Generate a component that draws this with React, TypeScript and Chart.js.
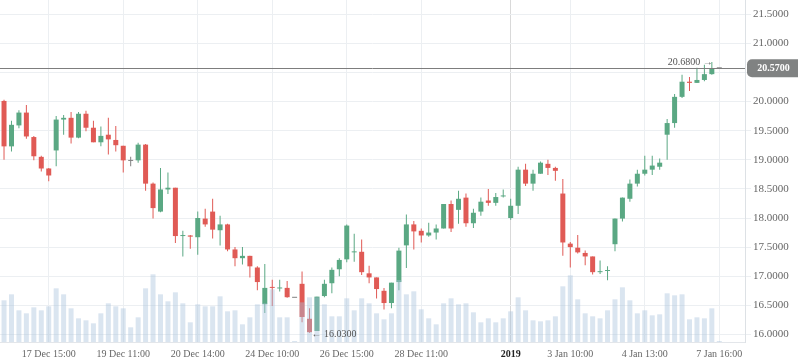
import React, { useEffect, useRef } from "react";
import { Chart, registerables } from "chart.js";

Chart.register(...registerables);

const opens = [
  20.01, 19.23, 19.59, 19.81, 19.39, 19.05, 18.85, 19.16, 19.69, 19.72,
  19.38, 19.79, 19.55, 19.30, 19.43, 19.34, 19.24, 18.98, 18.99, 19.26,
  18.59, 18.11, 18.49, 18.52, 17.69, 17.70, 17.67, 17.99, 18.11, 17.79,
  17.89, 17.46, 17.31, 17.35, 17.15, 16.52, 16.81, 16.79, 16.80, 16.63,
  16.87, 16.27, 16.06, 16.66, 16.88, 17.12, 17.29, 17.41, 17.42, 17.05,
  16.98, 16.75, 16.54, 16.90, 17.53, 17.89, 17.78, 17.70, 17.75, 17.82,
  18.24, 18.14, 18.35, 17.91, 18.11, 18.30, 18.26, 18.37, 18.00, 18.21,
  18.83, 18.59, 18.76, 18.93, 18.86, 18.42, 17.56, 17.49, 17.40, 17.34,
  17.07, 17.09, 17.55, 17.99, 18.33, 18.59, 18.76, 18.83, 18.88, 19.43,
  19.63, 20.08, 20.34, 20.32, 20.37, 20.47, 20.57,
];
const highs = [
  20.03, 19.67, 19.85, 19.94, 19.41, 19.07, 18.86, 19.75, 19.77, 19.82,
  19.82, 19.84, 19.67, 19.57, 19.72, 19.58, 19.24, 19.05, 19.29, 19.27,
  18.61, 18.86, 18.78, 18.52, 17.78, 17.71, 18.11, 18.16, 18.33, 18.04,
  17.90, 17.50, 17.50, 17.35, 17.17, 17.21, 16.94, 16.94, 16.92, 16.63,
  17.08, 16.45, 16.65, 16.94, 17.15, 17.31, 17.89, 17.73, 17.63, 17.18,
  16.98, 16.80, 16.89, 17.49, 18.06, 17.95, 17.82, 17.92, 17.89, 18.24,
  18.30, 18.47, 18.42, 18.16, 18.35, 18.50, 18.43, 18.49, 18.33, 18.88,
  18.93, 18.83, 18.97, 19.00, 18.88, 18.67, 17.59, 17.71, 17.44, 17.34,
  17.27, 17.17, 17.99, 18.35, 18.66, 18.83, 19.07, 19.07, 19.02, 19.70,
  20.13, 20.46, 20.42, 20.58, 20.63, 20.68, 20.57,
];
const lows = [
  19.00, 19.14, 19.54, 19.36, 18.99, 18.80, 18.63, 18.89, 19.43, 19.28,
  19.37, 19.49, 19.30, 19.23, 19.09, 19.14, 18.78, 18.89, 18.95, 18.47,
  17.99, 18.10, 18.41, 17.57, 17.34, 17.47, 17.37, 17.85, 17.65, 17.53,
  17.43, 17.17, 17.20, 16.98, 16.76, 16.37, 16.49, 16.74, 16.63, 16.63,
  16.21, 16.03, 16.06, 16.64, 16.71, 17.00, 17.24, 17.25, 17.02, 16.88,
  16.62, 16.43, 16.45, 16.76, 17.14, 17.46, 17.58, 17.68, 17.63, 17.82,
  17.76, 17.90, 17.85, 17.83, 18.04, 18.21, 18.21, 18.35, 17.97, 18.07,
  18.55, 18.47, 18.76, 18.74, 18.64, 17.35, 17.15, 17.39, 17.19, 17.03,
  17.04, 16.93, 17.43, 17.94, 18.28, 18.54, 18.73, 18.74, 18.83, 19.00,
  19.55, 20.06, 20.18, 20.32, 20.35, 20.46, 20.57,
];
const closes = [
  19.23, 19.60, 19.81, 19.40, 19.06, 18.85, 18.73, 19.69, 19.72, 19.38,
  19.79, 19.55, 19.30, 19.41, 19.35, 19.25, 18.99, 18.98, 19.26, 18.59,
  18.17, 18.49, 18.52, 17.69, 17.70, 17.68, 18.00, 17.89, 17.80, 17.89,
  17.46, 17.31, 17.35, 17.17, 16.90, 16.80, 16.80, 16.80, 16.64, 16.63,
  16.30, 16.04, 16.65, 16.87, 17.11, 17.28, 17.87, 17.42, 17.07, 16.98,
  16.78, 16.54, 16.89, 17.44, 17.89, 17.77, 17.70, 17.75, 17.82, 18.24,
  17.82, 18.33, 17.91, 18.09, 18.28, 18.26, 18.36, 18.38, 18.21, 18.83,
  18.59, 18.76, 18.95, 18.86, 18.81, 17.58, 17.50, 17.41, 17.34, 17.07,
  17.08, 17.10, 17.99, 18.35, 18.59, 18.76, 18.83, 18.90, 18.95, 19.63,
  20.08, 20.34, 20.32, 20.37, 20.47, 20.57, 20.57,
];
const volumes = [
  125, 143, 95, 86, 104, 95, 107, 161, 143, 101,
  71, 65, 56, 86, 116, 107, 101, 44, 74, 161,
  203, 143, 122, 149, 116, 59, 113, 107, 107, 137,
  92, 95, 53, 74, 113, 116, 158, 74, 74, 3,
  119, 134, 134, 113, 77, 77, 131, 95, 131, 116,
  86, 68, 86, 186, 143, 152, 98, 71, 53, 116,
  131, 113, 116, 89, 59, 71, 59, 71, 92, 134,
  95, 65, 62, 65, 77, 167, 200, 128, 86, 77,
  71, 95, 128, 164, 125, 86, 95, 80, 83, 146,
  140, 143, 68, 74, 71, 101, 3,
];
const tickIndex = [6, 16, 26, 36, 46, 56, 68, 76, 86, 96];
const tickLabels = [
  "17 Dec 15:00", "19 Dec 11:00", "20 Dec 14:00", "24 Dec 10:00", "26 Dec 15:00",
  "28 Dec 11:00", "2019", "3 Jan 10:00", "4 Jan 13:00", "7 Jan 16:00",
];
const yearTick = 68;
const priceTicks = [16, 16.5, 17, 17.5, 18, 18.5, 19, 19.5, 20, 20.5, 21, 21.5];
const lastPrice = 20.57;
const highMark = { index: 95, value: 20.68 };
const lowMark = { index: 41, value: 16.03 };

const GREEN = "#5aa883";
const RED = "#e05a55";
const GRAY = "#808080";
const FONT = "'Liberation Serif', 'Times New Roman', serif";

const overlayPlugin = {
  id: "overlay",
  afterDatasetsDraw(chart: any) {
    const { ctx, chartArea, scales } = chart;
    const y = Math.round(scales.y.getPixelForValue(lastPrice)) + 0.5;
    ctx.save();
    ctx.strokeStyle = "#7d7d7d";
    ctx.lineWidth = 1;
    ctx.beginPath();
    ctx.moveTo(chartArea.left, y);
    ctx.lineTo(chartArea.right, y);
    ctx.stroke();
    ctx.font = `10px ${FONT}`;
    ctx.fillStyle = "#555";
    ctx.textBaseline = "middle";
    ctx.textAlign = "right";
    ctx.fillText(
      `${highMark.value.toFixed(4)} \u2192`,
      scales.x.getPixelForValue(highMark.index) + 1,
      scales.y.getPixelForValue(highMark.value)
    );
    ctx.textAlign = "left";
    ctx.fillText(
      `\u2190 ${lowMark.value.toFixed(4)}`,
      scales.x.getPixelForValue(lowMark.index) + 2,
      scales.y.getPixelForValue(lowMark.value) + 2
    );
    ctx.restore();
  },
  afterDraw(chart: any) {
    const { ctx, chartArea, scales, width } = chart;
    const y = scales.y.getPixelForValue(lastPrice);
    const x0 = chartArea.right + 2;
    const h = 18;
    const r = 5;
    ctx.save();
    ctx.fillStyle = "#808282";
    ctx.beginPath();
    ctx.moveTo(width, y - h / 2);
    ctx.lineTo(x0 + r, y - h / 2);
    ctx.arcTo(x0, y - h / 2, x0, y, r);
    ctx.arcTo(x0, y + h / 2, x0 + r, y + h / 2, r);
    ctx.lineTo(width, y + h / 2);
    ctx.closePath();
    ctx.fill();
    ctx.fillStyle = "#ffffff";
    ctx.font = `bold 10px ${FONT}`;
    ctx.textAlign = "center";
    ctx.textBaseline = "middle";
    ctx.fillText(lastPrice.toFixed(4), (x0 + width) / 2 + 1, y + 0.5);
    ctx.restore();
  },
};

export default function App() {
  const ref = useRef<HTMLCanvasElement | null>(null);

  useEffect(() => {
    if (!ref.current) return;
    const idx = opens.map((_, i) => i);
    const colors = idx.map((i) =>
      closes[i] > opens[i] ? GREEN : closes[i] < opens[i] ? RED : GRAY
    );
    const chart = new Chart(ref.current, {
      type: "bar",
      data: {
        datasets: [
          {
            label: "volume",
            data: idx.map((i) => ({ x: i, y: volumes[i] })),
            yAxisID: "v",
            xAxisID: "x",
            backgroundColor: "rgba(167,193,219,0.42)",
            barThickness: 5,
            grouped: false,
            order: 0,
            inflateAmount: 0,
          } as any,
          {
            label: "body",
            data: idx.map((i) => ({ x: i, y: [opens[i], closes[i]] })),
            yAxisID: "y",
            xAxisID: "x",
            backgroundColor: colors,
            barThickness: 5,
            minBarLength: 1,
            grouped: false,
            order: 1,
            inflateAmount: 0,
          } as any,
          {
            label: "wick",
            data: idx.map((i) => ({ x: i, y: [lows[i], highs[i]] })),
            yAxisID: "y",
            xAxisID: "x",
            backgroundColor: colors,
            barThickness: 1,
            grouped: false,
            order: 2,
            inflateAmount: 0,
          } as any,
        ],
      },
      options: {
        animation: false,
        responsive: false,
        events: [],
        layout: { padding: 0 },
        plugins: { legend: { display: false }, tooltip: { enabled: false } },
        scales: {
          x: {
            type: "linear",
            position: "bottom",
            min: -0.54,
            max: 99.45,
            offset: false,
            afterBuildTicks: (s: any) => {
              s.ticks = tickIndex.map((v) => ({ value: v }));
            },
            afterFit: (s: any) => {
              s.height = 21;
              s.paddingLeft = 0;
              s.paddingRight = 0;
            },
            ticks: {
              autoSkip: false,
              maxRotation: 0,
              padding: 6,
              font: (c: any) => ({
                family: FONT,
                size: 10,
                weight: c.tick && c.tick.value === yearTick ? "bold" : "normal",
              }),
              color: (c: any) => (c.tick && c.tick.value === yearTick ? "#222" : "#666"),
              callback: (v: any) => {
                const k = tickIndex.indexOf(Number(v));
                return k >= 0 ? tickLabels[k] : "";
              },
            },
            grid: {
              offset: false,
              drawTicks: false,
              color: (c: any) => (c.tick && c.tick.value === yearTick ? "#d9d9d9" : "#eceff2"),
            },
            border: { display: true, color: "#e3e6ea" },
          },
          y: {
            type: "linear",
            position: "right",
            min: 15.871,
            max: 21.743,
            afterBuildTicks: (s: any) => {
              s.ticks = priceTicks.map((v) => ({ value: v }));
            },
            afterFit: (s: any) => {
              s.width = 53;
              s.paddingTop = 0;
              s.paddingBottom = 0;
            },
            ticks: {
              padding: 2,
              font: { family: FONT, size: 11 },
              color: "#666",
              callback: (v: any) =>
                Math.abs(Number(v) - lastPrice) < 0.15 ? "" : Number(v).toFixed(4),
            },
            grid: { color: "#eceff2", tickLength: 6 },
            border: { display: true, color: "#dde1e5" },
          },
          v: { type: "linear", display: false, min: 0, max: 1026 },
        },
      } as any,
      plugins: [overlayPlugin],
    });
    return () => chart.destroy();
  }, []);

  return (
    <div style={{ position: "absolute", left: 0, top: 0, width: 798, height: 363 }}>
      <canvas ref={ref} width={798} height={363} style={{ display: "block" }} />
    </div>
  );
}
